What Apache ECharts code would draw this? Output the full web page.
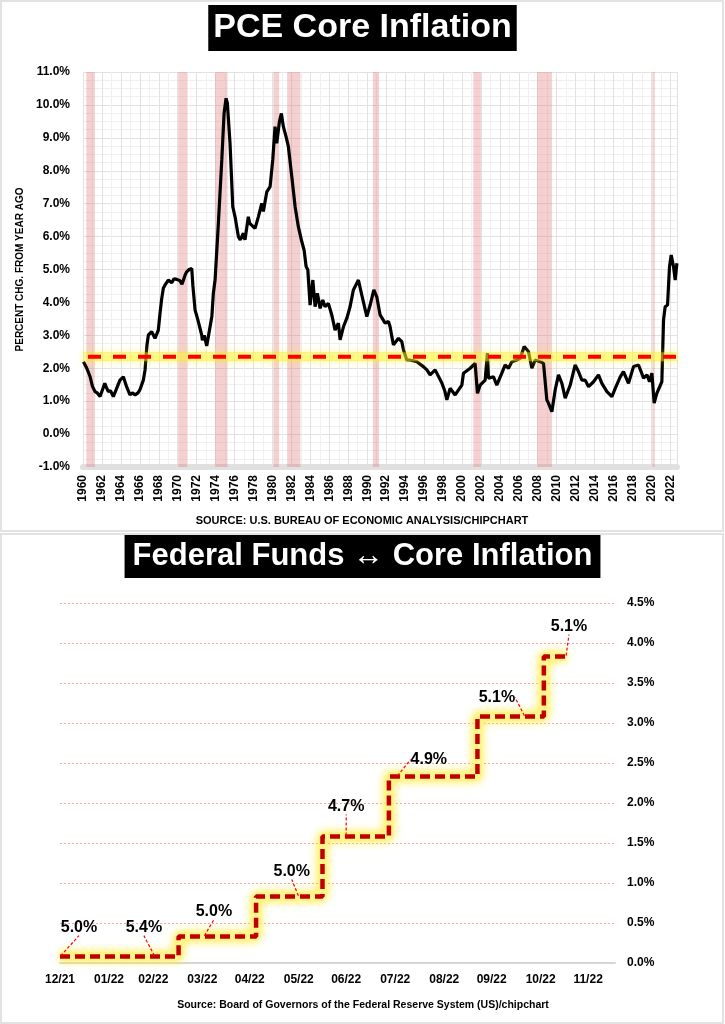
<!DOCTYPE html>
<html><head><meta charset="utf-8">
<script src="https://cdn.jsdelivr.net/npm/echarts@6/dist/echarts.min.js"></script>
<style>html,body{margin:0;padding:0;background:#fff}#c{width:725px;height:1024px}</style>
</head><body><div id="c"></div>
<script>
// ---------- Top chart data: PCE core inflation, % change from year ago ----------
const pceYears = [
 1960.05,1960.4,1960.74,1961.0,1961.27,1961.5,1961.8,1962.0,1962.3,1962.5,1962.67,1962.9,1963.2,1963.5,1963.9,1964.1,1964.26,1964.6,1964.96,1965.2,
 1965.5,1965.8,1966.0,1966.37,1966.55,1966.75,1966.9,1967.1,1967.25,1967.6,1967.95,1968.13,1968.3,1968.48,1968.7,1969.0,1969.2,1969.37,1969.6,1969.9,
 1970.24,1970.45,1970.6,1970.8,1970.95,1971.2,1971.48,1971.6,1971.83,1972.0,1972.18,1972.53,1972.6,1972.8,1973.06,1973.23,1973.6,1973.76,1973.94,1974.29,
 1974.65,1974.89,1975.1,1975.24,1975.52,1975.81,1976.05,1976.4,1976.6,1976.76,1976.93,1977.1,1977.45,1977.6,1977.81,1978.16,1978.51,1978.87,1979.04,1979.4,
 1979.75,1980.03,1980.27,1980.45,1980.73,1980.94,1981.15,1981.44,1981.68,1982.04,1982.39,1982.73,1983.09,1983.34,1983.55,1983.73,1983.97,1984.26,1984.5,1984.74,
 1985.03,1985.31,1985.55,1985.9,1986.26,1986.61,1986.96,1987.14,1987.49,1987.85,1988.19,1988.54,1989.07,1989.2,1989.43,1989.96,1990.31,1990.7,1991.01,1991.36,
 1991.89,1992.24,1992.42,1992.6,1992.77,1992.95,1993.3,1993.65,1993.82,1994.18,1994.53,1995.24,1995.41,1995.93,1996.3,1996.64,1997.17,1997.35,1997.88,1998.2,
 1998.41,1998.75,1998.93,1999.28,1999.46,1999.99,2000.16,2000.34,2000.87,2001.39,2001.64,2001.92,2002.45,2002.69,2002.8,2002.98,2003.33,2003.68,2004.21,2004.56,
 2004.91,2005.27,2005.8,2006.15,2006.57,2007.02,2007.38,2007.73,2008.26,2008.61,2008.96,2009.13,2009.49,2009.84,2010.19,2010.55,2010.9,2011.43,2011.95,2012.3,
 2012.66,2013.01,2013.36,2013.89,2014.41,2014.77,2015.3,2015.83,2016.18,2016.71,2017.05,2017.58,2018.11,2018.64,2019.17,2019.53,2019.8,2020.05,2020.29,2020.57,
 2021.1,2021.28,2021.45,2021.7,2021.91,2022.09,2022.33,2022.51,2022.69
];
const pceValues = [
 2.20,2.00,1.75,1.45,1.29,1.25,1.14,1.30,1.54,1.40,1.29,1.32,1.14,1.35,1.64,1.70,1.74,1.44,1.19,1.25,
 1.19,1.25,1.34,1.64,1.95,2.70,3.01,3.05,3.11,2.91,3.16,3.67,4.10,4.43,4.55,4.68,4.62,4.60,4.72,4.70,
 4.66,4.55,4.58,4.85,4.93,5.00,5.03,4.50,3.77,3.60,3.41,3.01,2.85,3.00,2.68,2.96,3.57,4.28,4.68,6.40,
 8.33,9.74,10.20,10.05,8.83,6.91,6.60,6.00,5.90,5.85,6.10,5.90,6.60,6.40,6.45,6.25,6.60,7.01,6.76,7.36,
 7.52,8.33,9.34,8.83,9.49,9.74,9.34,9.03,8.73,7.82,6.91,6.30,5.85,5.59,5.09,4.99,3.92,4.68,3.87,4.28,
 3.82,4.07,3.87,3.97,3.62,3.16,3.37,2.86,3.26,3.52,3.87,4.38,4.68,4.73,4.22,3.57,3.92,4.38,4.17,3.62,
 3.37,3.42,3.26,2.96,2.71,2.76,2.91,2.81,2.56,2.25,2.25,2.20,2.20,2.05,1.95,1.80,1.95,1.95,1.55,1.30,
 1.04,1.39,1.39,1.19,1.19,1.49,1.85,1.90,2.00,2.15,1.24,1.49,1.64,2.46,1.70,1.64,1.74,1.49,1.85,2.10,
 2.00,2.20,2.25,2.30,2.66,2.51,2.00,2.25,2.20,2.15,1.04,0.94,0.68,1.34,1.80,1.54,1.09,1.49,2.10,1.90,
 1.64,1.64,1.44,1.59,1.80,1.54,1.29,1.14,1.39,1.74,1.90,1.54,2.05,2.10,1.70,1.80,1.59,1.85,0.94,1.24,
 1.59,3.47,3.87,3.92,5.09,5.44,5.09,4.68,5.19
];
const recessionStarts = [1960.35,1970.05,1973.95,1980.1,1981.55,1990.6,2001.2,2007.95,2020.1];
const recessionEnds   = [1961.25,1971.0,1975.25,1980.7,1982.95,1991.25,2002.0,2009.5,2020.35];
const referenceRate = 2.35;
const topXRange = [1960, 2022.7];
const topYRange = [-1, 11];

// ---------- Bottom chart data: Federal funds rate steps & core inflation labels ----------
const hikeDates = ['2022-01-01','2022-03-17','2022-05-05','2022-06-16','2022-07-28','2022-09-22','2022-11-03','2022-11-17'];
const fedFunds  = [0.08,0.33,0.83,1.58,2.33,3.08,3.83,3.83];
const coreDates = ['2022-01-01','2022-03-02','2022-04-02','2022-06-01','2022-07-01','2022-08-02','2022-10-22','2022-11-17'];
const coreInflation = [5.0,5.4,5.0,5.0,4.7,4.9,5.1,5.1];
const monthTickDates = ['2022-01-01','2022-02-01','2022-03-01','2022-04-01','2022-05-01','2022-06-01','2022-07-01','2022-08-01','2022-09-01','2022-10-01','2022-11-01','2022-12-01'];
const monthTickLabels = ['12/21','01/22','02/22','03/22','04/22','05/22','06/22','07/22','08/22','09/22','10/22','11/22'];
const bottomDayRange = [0, 351];
const bottomYRange = [0, 4.5];

// label placement (pixel offsets of each annotation from its anchor)
const labelOffsets = [[19,-29],[-11,-29],[10,-25],[-7,-25],[0,-30],[32,-17],[-28,-19],[3,-30]];

const FONT = "'Liberation Sans', Arial, Helvetica, sans-serif";
const ORIGIN = Date.UTC(2022,0,1);
function dayOf(s){ const p = s.split('-').map(Number); return Math.round((Date.UTC(p[0],p[1]-1,p[2]) - ORIGIN)/86400000); }
const hikeDays = hikeDates.map(dayOf);
const coreDays = coreDates.map(dayOf);
const monthTickDays = monthTickDates.map(dayOf);
function fedAt(d){ let v = fedFunds[0]; for (let i=0;i<hikeDays.length;i++){ if (hikeDays[i] <= d) v = fedFunds[i]; } return v; }

const pceData = pceYears.map((y,i)=>[y, pceValues[i]]);
const refData = [[topXRange[0], referenceRate],[topXRange[1], referenceRate]];
const stepData = hikeDays.map((d,i)=>[d, fedFunds[i]]);
const coreData = coreDays.map((d,i)=>[d, fedAt(d), coreInflation[i]]);
const recessionAreas = recessionStarts.map((s,i)=>[{xAxis:s},{xAxis:recessionEnds[i]}]);

const chart = echarts.init(document.getElementById('c'), null, {renderer:'canvas'});
const boldLbl = {fontFamily:FONT, fontWeight:'bold', color:'#000'};
chart.setOption({
  animation:false,
  backgroundColor:'#fff',
  title:[
    {text:'PCE Core Inflation', left:'center', top:5, backgroundColor:'#000', padding:[4,5,4,5],
     textStyle:{color:'#fff', fontSize:34, fontWeight:'bold', fontFamily:FONT, lineHeight:38}},
    {text:'Federal Funds \u2194 Core Inflation', left:'center', top:535, backgroundColor:'#000', padding:[4,8,4,8],
     textStyle:{color:'#fff', fontSize:31, fontWeight:'bold', fontFamily:FONT, lineHeight:35}}
  ],
  grid:[
    {left:83, top:72, width:594, height:395},
    {left:60, top:603, width:555, height:360}
  ],
  xAxis:[
    {type:'value', gridIndex:0, min:topXRange[0], max:topXRange[1], interval:2,
     axisLine:{onZero:false, lineStyle:{color:'#e0e0e0', width:6}},
     axisTick:{show:false},
     axisLabel:Object.assign({rotate:90, fontSize:12, margin:8,
       formatter:v => (Number.isInteger(v) && v % 2 === 0) ? String(v) : ''}, boldLbl),
     splitLine:{lineStyle:{color:'#e2e2e2', width:1}},
     minorTick:{show:false, splitNumber:2},
     minorSplitLine:{show:true, lineStyle:{color:'#f0f0f0', width:1}}},
    {type:'value', gridIndex:1, min:bottomDayRange[0], max:bottomDayRange[1],
     axisLine:{onZero:false, lineStyle:{color:'#d6d6d6', width:2}},
     axisTick:{show:false},
     axisLabel:Object.assign({fontSize:12, margin:11, customValues:monthTickDays,
       formatter:v => { const i = monthTickDays.indexOf(Math.round(v)); return i >= 0 ? monthTickLabels[i] : ''; }}, boldLbl),
     splitLine:{show:false}}
  ],
  yAxis:[
    {type:'value', gridIndex:0, min:topYRange[0], max:topYRange[1], interval:1,
     axisLine:{show:false}, axisTick:{show:false},
     axisLabel:Object.assign({fontSize:12, margin:13, formatter:v => v.toFixed(1) + '%'}, boldLbl),
     splitLine:{lineStyle:{color:'#e2e2e2', width:1}},
     minorTick:{show:false, splitNumber:4},
     minorSplitLine:{show:true, lineStyle:{color:'#f0f0f0', width:1}},
     name:'PERCENT CHG. FROM YEAR AGO', nameLocation:'middle', nameRotate:90, nameGap:50,
     nameTextStyle:{fontFamily:FONT, fontWeight:'bold', fontSize:10, color:'#000'}},
    {type:'value', gridIndex:1, position:'right', min:bottomYRange[0], max:bottomYRange[1], interval:0.5,
     axisLine:{show:false}, axisTick:{show:false},
     axisLabel:Object.assign({fontSize:12, margin:12, formatter:v => v.toFixed(1) + '%'}, boldLbl),
     splitLine:{lineStyle:{color:'#f3a3a3', width:1, type:[2,2]}}}
  ],
  series:[
    {type:'line', xAxisIndex:0, yAxisIndex:0, data:[], z:1, silent:true,
     markArea:{silent:true, itemStyle:{color:'rgba(220,110,110,0.32)'}, data:recessionAreas}},
    {type:'line', xAxisIndex:0, yAxisIndex:0, data:pceData, z:2, symbol:'none',
     lineStyle:{color:'#000', width:3.2}},
    {type:'line', xAxisIndex:0, yAxisIndex:0, data:refData, z:3, symbol:'none',
     lineStyle:{color:'rgba(255,245,40,0.42)', width:9, shadowColor:'rgba(255,238,0,0.9)', shadowBlur:9}},
    {type:'line', xAxisIndex:0, yAxisIndex:0, data:refData, z:4, symbol:'none',
     lineStyle:{color:'#ff0000', width:4, type:[13,12], dashOffset:-5}},
    {type:'line', xAxisIndex:1, yAxisIndex:1, data:stepData, step:'end', z:2, symbol:'none',
     lineStyle:{color:'#fff48a', width:9, shadowColor:'#ffe92e', shadowBlur:10}},
    {type:'line', xAxisIndex:1, yAxisIndex:1, data:stepData, step:'end', z:3, symbol:'none',
     lineStyle:{color:'#c00000', width:4.5, type:[10,5]}},
    {type:'scatter', xAxisIndex:1, yAxisIndex:1, data:coreData, z:5, symbolSize:2,
     itemStyle:{color:'rgba(0,0,0,0)', opacity:1},
     label:{show:true, position:'inside', fontFamily:FONT, fontWeight:'bold', fontSize:16, color:'#000', opacity:1,
       formatter:p => p.value[2].toFixed(1) + '%'},
     labelLayout:p => ({dx:labelOffsets[p.dataIndex][0], dy:labelOffsets[p.dataIndex][1]}),
     labelLine:{show:true, lineStyle:{color:'#ff0000', width:1.2, type:[3,2], opacity:1}}}
  ],
  graphic:[
    {type:'rect', shape:{x:1, y:1, width:722, height:530}, style:{fill:null, stroke:'#e2e2e2', lineWidth:2}, silent:true},
    {type:'rect', shape:{x:1, y:534, width:722, height:489}, style:{fill:null, stroke:'#e2e2e2', lineWidth:2}, silent:true},
    {type:'text', x:362, y:521, style:{text:'SOURCE: U.S. BUREAU OF ECONOMIC ANALYSIS/CHIPCHART', fill:'#000',
      font:"bold 11px 'Liberation Sans', Arial, sans-serif", textAlign:'center', textVerticalAlign:'middle'}},
    {type:'text', x:363, y:1005, style:{text:'Source: Board of Governors of the Federal Reserve System (US)/chipchart', fill:'#000',
      font:"bold 10.5px 'Liberation Sans', Arial, sans-serif", textAlign:'center', textVerticalAlign:'middle'}}
  ]
});
</script></body></html>
